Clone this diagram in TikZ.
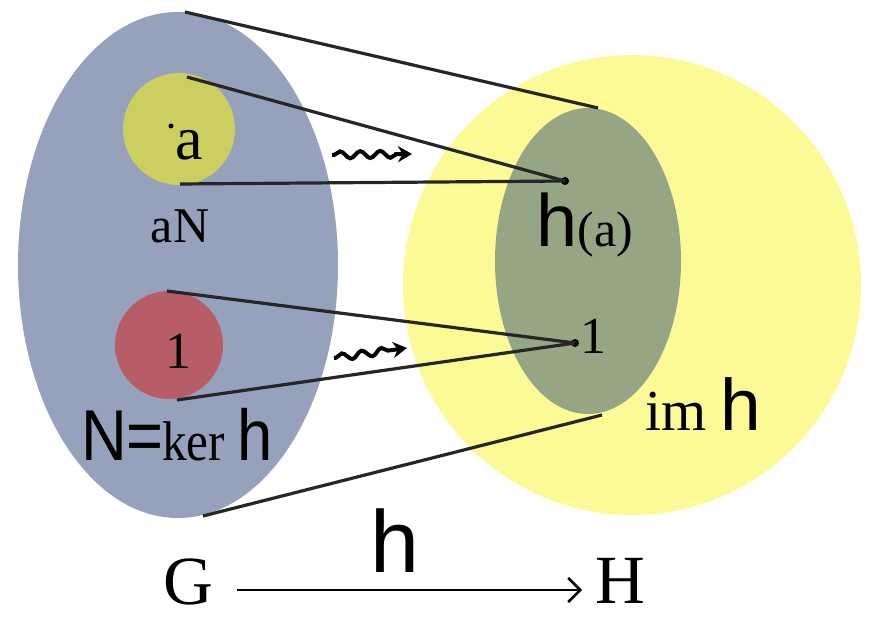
\documentclass[tikz,border=0pt]{standalone}
\usepackage{graphicx}
\usepackage{fontspec}
\setmainfont{Liberation Serif}
\newfontfamily\sansf{Liberation Sans}
\usetikzlibrary{arrows.meta,decorations.pathmorphing}
\definecolor{bluegrey}{RGB}{150,162,188}
\definecolor{ygreen}{RGB}{204,206,96}
\definecolor{redc}{RGB}{183,93,104}
\definecolor{yellowc}{RGB}{252,250,150}
\definecolor{greenc}{RGB}{150,166,133}
\tikzset{
  conn/.style={line width=3.2pt, draw=black!85},
  squig/.style={line width=4pt, decorate, decoration={snake, amplitude=3.5pt, segment length=20pt, pre length=2pt, post length=12pt}, -{Stealth[length=14pt,width=16pt]}},
  lbl/.style={inner sep=0pt, anchor=base},
  pt/.style={circle, fill=black, inner sep=0pt, minimum size=8pt}
}
\begin{document}
\begin{tikzpicture}[x=1pt,y=-1pt]
\useasboundingbox (0,0) rectangle (869,620);
% regions
\fill[bluegrey] (178,265) ellipse [x radius=160, y radius=253];
\fill[yellowc] (632,285) ellipse [x radius=229, y radius=230];
\fill[greenc] (588,261) ellipse [x radius=93, y radius=153];
\fill[ygreen] (179,129) circle [radius=56];
\fill[redc] (169,345) circle [radius=54];
% points
\node[pt] (ha) at (565,181) {};
\node[pt] (one) at (575,343) {};
\coordinate (g1) at (185,12);
\coordinate (g2) at (203,516);
\coordinate (i1) at (598,108);
\coordinate (i2) at (602,415);
\coordinate (aN1) at (187,77);
\coordinate (aN2) at (180,184);
\coordinate (k1) at (167,291);
\coordinate (k2) at (177,400);
% connectors
\draw[conn] (g1) -- (i1);
\draw[conn] (g2) -- (i2);
\draw[conn] (aN1) -- (ha.center);
\draw[conn] (aN2) -- (ha.center);
\draw[conn] (k1) -- (one.center);
\draw[conn] (k2) -- (one.center);
% squiggle arrows
\coordinate (s1a) at (332,155);
\coordinate (s1b) at (412,154);
\coordinate (s2a) at (334,358);
\coordinate (s2b) at (407,348);
\draw[squig] (s1a) -- (s1b);
\draw[squig] (s2a) -- (s2b);
% labels
\node[pt, minimum size=5pt] (adot) at (171,126) {};
\node[lbl] (a) at (189,160) {\fontsize{62}{62}\selectfont a};
\node[lbl] (aN) at (180,242) {\fontsize{50}{50}\selectfont aN};
\node[lbl] (one1) at (178,368) {\fontsize{52}{52}\selectfont 1};
\node[lbl, anchor=base west] (ker) at (81,460) {\scalebox{0.88}[1]{{\sansf\fontsize{72}{72}\selectfont N=}\kern-2pt\fontsize{56}{56}\selectfont ker {\sansf\fontsize{72}{72}\selectfont h}}};
\node[lbl, anchor=base west] (hal) at (536,247) {{\sansf\fontsize{74}{74}\selectfont h}\fontsize{50}{50}\selectfont (a)};
\node[lbl, anchor=base west] (one2) at (580,353) {\fontsize{52}{52}\selectfont 1};
\node[lbl, anchor=base west] (imh) at (645,430) {\fontsize{58}{58}\selectfont im {\sansf\fontsize{73}{73}\selectfont h}};
\node[lbl] (hmap) at (395,572) {\sansf\fontsize{88}{88}\selectfont h};
\node[lbl] (G) at (188,604) {\fontsize{69}{69}\selectfont G};
\node[lbl] (H) at (620,603) {\fontsize{69}{69}\selectfont H};
\draw[line width=2.6pt, -{Straight Barb[length=12pt,width=24pt,line width=2.6pt]}] (G.east |- 0,590) ++(24,0) coordinate (ga) -- (582,590) coordinate (hb);
\end{tikzpicture}
\end{document}
